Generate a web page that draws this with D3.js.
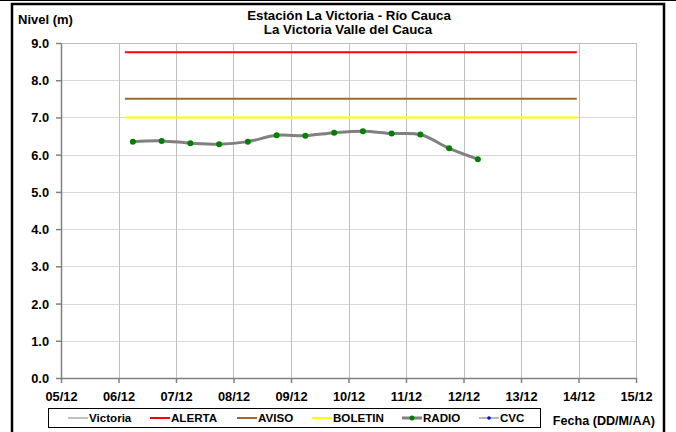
<!DOCTYPE html>
<html><head><meta charset="utf-8">
<script src="https://cdn.jsdelivr.net/npm/d3@7"></script>
<style>body{margin:0;background:#fff}svg{display:block;font-family:Arial,"Liberation Sans",sans-serif}</style>
</head><body>
<script>
const xTickValues = [5,6,7,8,9,10,11,12,13,14,15];
const xTickLabels = ["05/12","06/12","07/12","08/12","09/12","10/12","11/12","12/12","13/12","14/12","15/12"];
const yTickValues = [0,1,2,3,4,5,6,7,8,9];
const radioTimes = [6.25,6.75,7.25,7.75,8.25,8.75,9.25,9.75,10.25,10.75,11.25,11.75,12.25];
const radioValues = [6.35,6.37,6.31,6.28,6.35,6.52,6.51,6.59,6.63,6.57,6.54,6.17,5.88];
const thresholdNames = ["ALERTA","AVISO","BOLETIN"];
const thresholdValues = [8.75,7.5,7.0];
const thresholdSpan = [6.11,13.97];
const legendNames = ["Victoria","ALERTA","AVISO","BOLETIN","RADIO","CVC"];

const W=676,H=432;
const svg=d3.select("body").append("svg").attr("width",W).attr("height",H);
const L=61,R=636,T=43,B=378;
const x=d3.scaleLinear().domain([5,15]).range([L,R]);
const y=d3.scaleLinear().domain([0,9]).range([B,T]);

// outer frame
svg.append("line").attr("x1",0).attr("x2",W).attr("y1",0.5).attr("y2",0.5).attr("stroke","#000").attr("stroke-width",1);
svg.append("path").attr("d",`M12,${H+5}V4H664V${H+5}`).attr("fill","none").attr("stroke","#000").attr("stroke-width",2.5);

// grid
const g=svg.append("g");
g.selectAll(".hg").data(yTickValues.slice(1)).join("line")
 .attr("x1",L).attr("x2",R).attr("y1",d=>Math.round(y(d))+0.5).attr("y2",d=>Math.round(y(d))+0.5)
 .attr("stroke","#d9d9d9").attr("stroke-width",1);
g.selectAll(".vg").data(xTickValues.slice(1)).join("line")
 .attr("y1",T).attr("y2",B).attr("x1",d=>Math.round(x(d))+0.5).attr("x2",d=>Math.round(x(d))+0.5)
 .attr("stroke","#c0c0c0").attr("stroke-width",1);
g.append("rect").attr("x",L+0.5).attr("y",T+0.5).attr("width",R-L).attr("height",B-T).attr("fill","none").attr("stroke","#c0c0c0");

// axes
const xa=svg.append("g").attr("transform",`translate(0,${B})`)
 .call(d3.axisBottom(x).tickValues(xTickValues).tickFormat((d,i)=>xTickLabels[i]).tickSizeInner(5).tickSizeOuter(0));
const ya=svg.append("g").attr("transform",`translate(${L},0)`)
 .call(d3.axisLeft(y).tickValues(yTickValues).tickFormat(d3.format(".1f")).tickSizeInner(5).tickSizeOuter(0));
[xa,ya].forEach(a=>{a.select(".domain").attr("stroke","#808080").attr("stroke-width",1.5);
 a.selectAll(".tick line").attr("stroke","#808080").attr("stroke-width",1.5);
 a.selectAll("text").attr("font-family","Arial,'Liberation Sans',sans-serif").attr("font-weight","bold").attr("font-size",12.8).attr("fill","#000");});
xa.selectAll("text").attr("dy","1.2em");
ya.selectAll("text").attr("dx","-4").attr("dy","0.35em");

// thresholds
const tColors=["#ff0000","#a0682d","#ffff00"];
svg.selectAll(".th").data(thresholdValues).join("line")
 .attr("x1",x(thresholdSpan[0])).attr("x2",x(thresholdSpan[1]))
 .attr("y1",d=>y(d)).attr("y2",d=>y(d)).attr("stroke",(d,i)=>tColors[i]).attr("stroke-width",2);

// radio series
const pts=radioTimes.map((t,i)=>[t,radioValues[i]]);
svg.append("path").datum(pts).attr("fill","none").attr("stroke","#808080").attr("stroke-width",3)
 .attr("d",d3.line().x(d=>x(d[0])).y(d=>y(d[1])).curve(d3.curveCatmullRom.alpha(0.5)));
svg.selectAll(".pt").data(pts).join("circle").attr("cx",d=>x(d[0])).attr("cy",d=>y(d[1])).attr("r",3).attr("fill","#008000");

// titles
svg.append("text").attr("x",349).attr("y",20).attr("text-anchor","middle").attr("font-weight","bold").attr("font-size",13.3).text("Estación La Victoria - Río Cauca");
svg.append("text").attr("x",348).attr("y",34).attr("text-anchor","middle").attr("font-weight","bold").attr("font-size",13.3).text("La Victoria Valle del Cauca");
svg.append("text").attr("x",18).attr("y",24).attr("font-weight","bold").attr("font-size",13).text("Nivel (m)");
svg.append("text").attr("x",655).attr("y",424.5).attr("text-anchor","end").attr("font-weight","bold").attr("font-size",12.6).text("Fecha (DD/M/AA)");

// legend
svg.append("rect").attr("x",48.5).attr("y",408.5).attr("width",492).attr("height",19).attr("fill","#fff").attr("stroke","#000");
const legX=[68,150,237,312,402,479];
const legColors=["#c0c0c0","#ff0000","#a0682d","#ffff00","#808080","#a0a0a0"];
const legW=[2,2,2,2,3,1.5];
legendNames.forEach((n,i)=>{
 svg.append("line").attr("x1",legX[i]).attr("x2",legX[i]+20).attr("y1",418).attr("y2",418).attr("stroke",legColors[i]).attr("stroke-width",legW[i]);
 if(n==="RADIO") svg.append("circle").attr("cx",legX[i]+10).attr("cy",418).attr("r",2.5).attr("fill","#008000");
 if(n==="CVC") svg.append("circle").attr("cx",legX[i]+10).attr("cy",418).attr("r",1.8).attr("fill","#0000ff");
 svg.append("text").attr("x",legX[i]+21).attr("y",422).attr("font-weight","bold").attr("font-size",11.6).text(n);
});
</script>
</body></html>
